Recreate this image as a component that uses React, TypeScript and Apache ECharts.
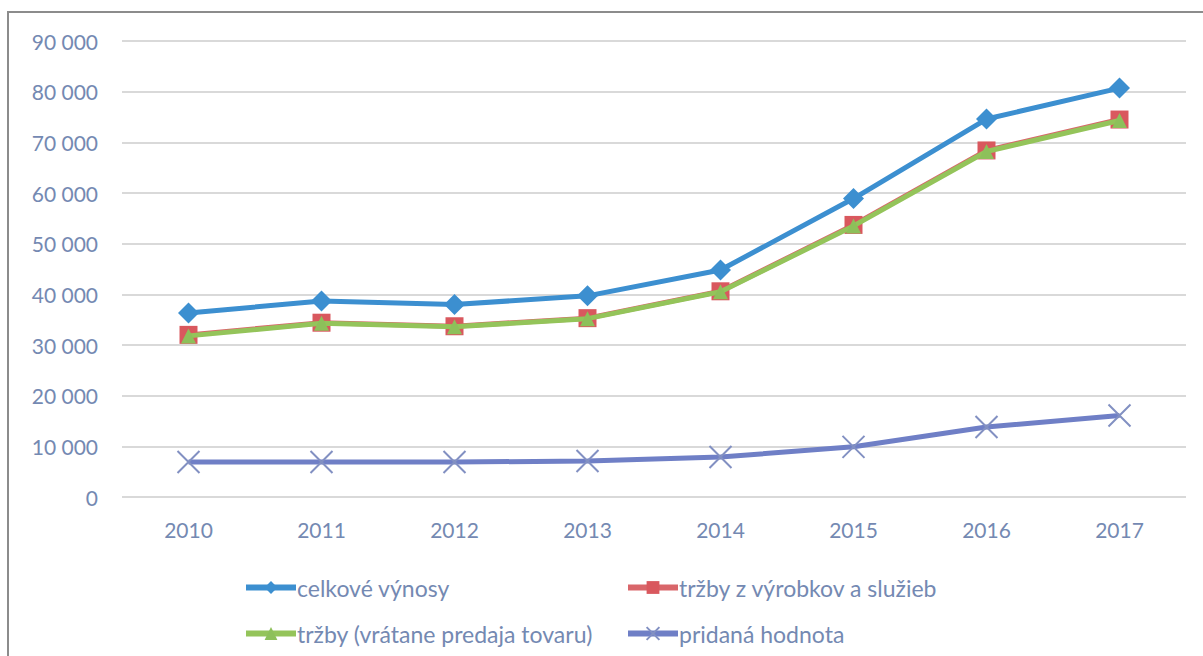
import React, { useEffect, useRef } from "react";
import * as echarts from "echarts";

const years = ["2010", "2011", "2012", "2013", "2014", "2015", "2016", "2017"];
const celkoveVynosy = [36300, 38700, 38000, 39700, 44800, 58900, 74600, 80700];
const trzbyVyrobky = [32000, 34400, 33700, 35300, 40600, 53700, 68400, 74500];
const trzbyTovar = [31800, 34300, 33600, 35200, 40500, 53500, 68200, 74300];
const pridanaHodnota = [6900, 6900, 6900, 7100, 7900, 9900, 13800, 16100];
const seriesNames = [
  "celkové výnosy",
  "tržby z výrobkov a služieb",
  "tržby (vrátane predaja tovaru)",
  "pridaná hodnota",
];

const FONT = "Lato, 'Open Sans', sans-serif";
const TEXT = "#7489b2";

export default function App() {
  const ref = useRef<HTMLDivElement>(null);
  useEffect(() => {
    if (!ref.current) return;
    const chart = echarts.init(ref.current, null, { renderer: "svg" });
    const legendBase = {
      itemWidth: 50,
      itemHeight: 16,
      itemGap: 0,
      lineStyle: { width: 6 },
      textStyle: { color: TEXT, fontSize: 23, fontFamily: FONT, padding: [0, 0, 0, -4] },
      selectedMode: false,
    };
    chart.setOption({
      animation: false,
      backgroundColor: "#ffffff",
      graphic: [
        {
          type: "rect",
          shape: { x: 8, y: 12, width: 1210, height: 680 },
          style: { fill: "none", stroke: "#8c8c8c", lineWidth: 2 },
          silent: true,
        },
      ],
      grid: { left: 122, right: 17, top: 41, bottom: 159 },
      legend: [
        { ...legendBase, left: 238, top: 571, data: [seriesNames[0]] },
        { ...legendBase, left: 620, top: 571, data: [seriesNames[1]] },
        { ...legendBase, left: 238, top: 617, data: [seriesNames[2]] },
        { ...legendBase, left: 620, top: 617, data: [seriesNames[3]] },
      ],
      xAxis: {
        type: "category",
        data: years,
        boundaryGap: true,
        axisLine: { show: false },
        axisTick: { show: false },
        axisLabel: { color: TEXT, fontSize: 21, fontFamily: FONT, margin: 22 },
      },
      yAxis: {
        type: "value",
        min: 0,
        max: 90000,
        interval: 10000,
        axisLine: { show: false },
        axisTick: { show: false },
        splitLine: { lineStyle: { color: "#d9d9d9", width: 2 } },
        axisLabel: {
          color: TEXT,
          fontSize: 21,
          fontFamily: FONT,
          margin: 24,
          formatter: (v: number) => (v === 0 ? "0" : v.toString().replace(/\B(?=(\d{3})+(?!\d))/g, " ")),
        },
      },
      series: [
        {
          name: seriesNames[0],
          type: "line",
          data: celkoveVynosy,
          symbol: "diamond",
          symbolSize: 21,
          lineStyle: { color: "#3c8fd0", width: 5 },
          itemStyle: { color: "#3c8fd0" },
          z: 4,
        },
        {
          name: seriesNames[1],
          type: "line",
          data: trzbyVyrobky,
          symbol: "rect",
          symbolSize: 18,
          lineStyle: { color: "#d9666a", width: 5 },
          itemStyle: { color: "#d9585e" },
          z: 2,
        },
        {
          name: seriesNames[2],
          type: "line",
          data: trzbyTovar,
          symbol: "triangle",
          symbolSize: 15,
          lineStyle: { color: "#94c45a", width: 5 },
          itemStyle: { color: "#8dc05a" },
          z: 3,
        },
        {
          name: seriesNames[3],
          type: "line",
          data: pridanaHodnota,
          symbol: "path://M0,0 L10,10 M10,0 L0,10",
          symbolSize: 22,
          lineStyle: { color: "#6f7fc6", width: 5 },
          itemStyle: { color: "#ffffff", borderColor: "#8290c2", borderWidth: 2 },
          z: 2,
        },
      ],
    });
    return () => chart.dispose();
  }, []);
  return (
    <div
      ref={ref}
      style={{ position: "fixed", left: 0, top: 0, width: 1203, height: 656, background: "#fff" }}
    />
  );
}
